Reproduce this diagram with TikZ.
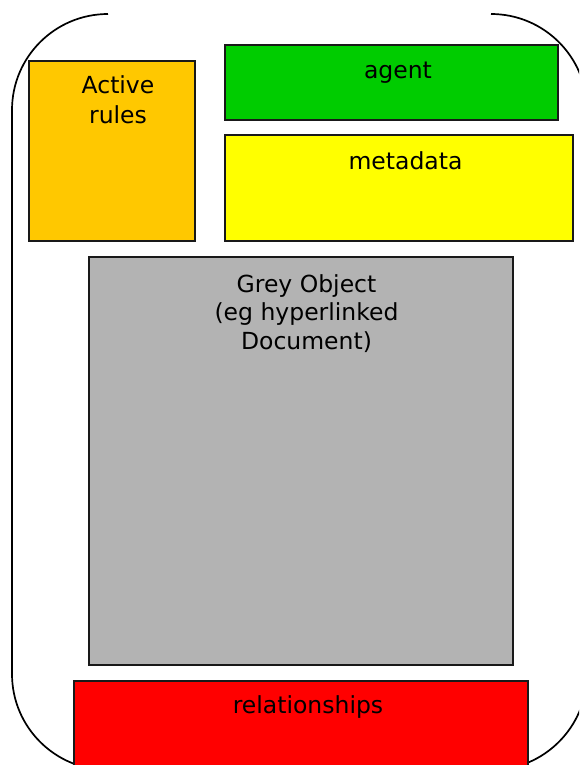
\documentclass[tikz,border=0pt]{standalone}
\usepackage{fontspec}
\setmainfont{DejaVu Sans}
\definecolor{rulesorange}{RGB}{255,200,0}
\definecolor{agentgreen}{RGB}{0,204,0}
\definecolor{metayellow}{RGB}{255,255,0}
\definecolor{objgrey}{RGB}{179,179,179}
\definecolor{relred}{RGB}{255,0,0}
\tikzset{
  box/.style={draw=black!90, line width=1.8pt, inner sep=0pt, anchor=north west},
  lbl/.style={inner sep=0pt, anchor=base, align=center, font=\fontsize{23.5}{28.5}\selectfont},
  outline/.style={draw=black, line width=1.7pt, rounded corners=96pt}
}
\begin{document}
\begin{tikzpicture}[x=1pt,y=-1pt]
\useasboundingbox (0,0) rectangle (579,765);
\clip (0,0) rectangle (579,765);
\fill[white] (0,0) rectangle (579,765);
\draw[outline] (108,14) -- (12,14) -- (12,770) -- (587,770) -- (587,14) -- (491,14);
\node[box, fill=rulesorange, minimum width=166pt, minimum height=180pt] (rules) at (28,60) {};
\node[box, fill=agentgreen, minimum width=333pt, minimum height=75pt] (agent) at (224,44) {};
\node[box, fill=metayellow, minimum width=348pt, minimum height=106pt] (meta) at (224,134) {};
\node[box, fill=objgrey, minimum width=424pt, minimum height=408pt] (grey) at (88,256) {};
\node[box, fill=relred, minimum width=454pt, minimum height=120pt] (rel) at (73,680) {};
\node[lbl] (rulesA) at (118,94) {Active};
\node[lbl] (rulesB) at (118,123.3) {rules};
\node[lbl] (agentT) at (398,79) {agent};
\node[lbl] (metaT) at (405.5,169) {metadata};
\node[lbl] (greyA) at (306.5,292.3) {Grey Object};
\node[lbl] (greyB) at (306.5,320.7) {(eg hyperlinked};
\node[lbl] (greyC) at (306.5,349) {Document)};
\node[lbl] (relT) at (308,713) {relationships};
\end{tikzpicture}
\end{document}
